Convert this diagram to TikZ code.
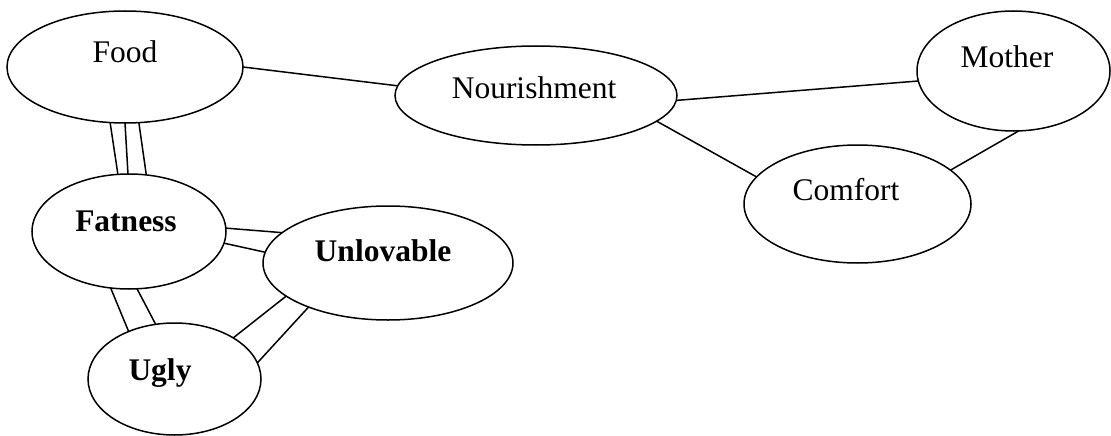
\documentclass[tikz,border=0pt]{standalone}
\usepackage{fontspec}
\setmainfont{Liberation Serif}
\usetikzlibrary{shapes.geometric}
\tikzset{
  oval/.style={draw, ellipse, line width=1.5pt, inner sep=0pt, outer sep=0pt},
  lbl/.style={anchor=base, inner sep=0pt, font=\fontsize{31.5}{36}\selectfont},
  blbl/.style={lbl, font=\fontsize{31.5}{36}\selectfont\bfseries},
  link/.style={line width=1.5pt}
}
\begin{document}
\begin{tikzpicture}[x=1pt,y=-1pt]
\useasboundingbox (0,0) rectangle (1111,436);
% ellipses
\node[oval, minimum width=236pt, minimum height=112pt] (food) at (125,67) {};
\node[oval, minimum width=282pt, minimum height=99pt] (nour) at (536,95.5) {};
\node[oval, minimum width=193pt, minimum height=120pt] (mother) at (1013.5,71) {};
\node[oval, minimum width=227pt, minimum height=118pt] (comfort) at (857.5,204) {};
\node[oval, minimum width=194pt, minimum height=115pt] (fat) at (129,231.5) {};
\node[oval, minimum width=250pt, minimum height=114pt] (unlov) at (388,263) {};
\node[oval, minimum width=173pt, minimum height=112pt] (ugly) at (174.5,379) {};
% labels
\node[lbl] (foodt) at (125,63) {Food};
\node[lbl] (nourt) at (534,98) {Nourishment};
\node[lbl] (mothert) at (1007,67) {Mother};
\node[lbl] (comfortt) at (846,200) {Comfort};
\node[blbl] (fatt) at (126,231) {Fatness};
\node[blbl] (unlovt) at (383,261) {Unlovable};
\node[blbl] (uglyt) at (160,380) {Ugly};
% connectors
\draw[link] (food.0.5) -- (nour.176.5);
\draw[link] (nour.-2.2) -- (mother.-174.7);
\draw[link] (nour.-12.8) -- (comfort.165.5);
\draw[link] (mother.-85.7) -- (comfort.20.8);
% Food - Fatness (triple)
\draw[link] (food.-105) -- (fat.101.8);
\draw[link] (food.-90) -- (fat.91);
\draw[link] (food.-76) -- (fat.73.5);
% Fatness - Unlovable (double)
\draw[link] (fat.2) -- (unlov.164.5);
\draw[link] (fat.-7) -- (unlov.175.3);
% Fatness - Ugly (double)
\draw[link] (fat.-108.6) -- (ugly.134.4);
\draw[link] (fat.-82) -- (ugly.109.7);
% Ugly - Unlovable (double)
\draw[link] (ugly.35.6) -- (unlov.-162.3);
\draw[link] (ugly.11.3) -- (unlov.-151.4);
\end{tikzpicture}
\end{document}
